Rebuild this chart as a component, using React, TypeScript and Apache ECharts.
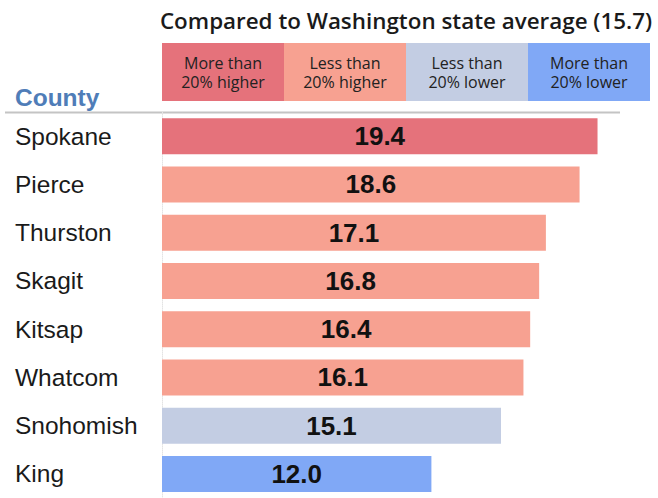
import React, { useEffect, useRef } from "react";
import * as echarts from "echarts";

const counties = ["Spokane", "Pierce", "Thurston", "Skagit", "Kitsap", "Whatcom", "Snohomish", "King"];
const rates = [19.4, 18.6, 17.1, 16.8, 16.4, 16.1, 15.1, 12.0];
const stateAverage = 15.7;
const legendLines = [
  ["More than", "20% higher"],
  ["Less than", "20% higher"],
  ["Less than", "20% lower"],
  ["More than", "20% lower"],
];
const legendColors = ["#e5727b", "#f7a191", "#c3cde3", "#80a8f6"];
const titleText = "Compared to Washington state average (15.7)";
const axisTitle = "County";

function classOf(v: number): number {
  const r = v / stateAverage;
  if (r > 1.2) return 0;
  if (r >= 1) return 1;
  if (r >= 0.8) return 2;
  return 3;
}

export default function App() {
  const ref = useRef<HTMLDivElement>(null);
  useEffect(() => {
    if (!ref.current) return;
    const chart = echarts.init(ref.current, undefined, { renderer: "svg" });
    const boxLeft = 162;
    const boxW = 122;
    const graphic: any[] = [];
    graphic.push({
      type: "text",
      x: 406,
      y: 20,
      style: {
        text: titleText,
        font: "600 22.4px 'Open Sans'",
        fill: "#1a1a1a",
        textAlign: "center",
        textVerticalAlign: "middle",
      },
    });
    legendLines.forEach((lines, i) => {
      graphic.push({
        type: "rect",
        shape: { x: boxLeft + i * boxW, y: 43, width: boxW, height: 58 },
        style: { fill: legendColors[i] },
      });
      lines.forEach((line, j) => {
        graphic.push({
          type: "text",
          x: boxLeft + i * boxW + boxW / 2,
          y: 62.5 + j * 19,
          style: {
            text: line,
            font: "16px 'Open Sans'",
            fill: "#222222",
            textAlign: "center",
            textVerticalAlign: "middle",
          },
        });
      });
    });
    graphic.push({
      type: "text",
      x: 15,
      y: 97,
      style: {
        text: axisTitle,
        font: "bold 24.5px 'Liberation Sans'",
        fill: "#4f7db8",
        textAlign: "left",
        textVerticalAlign: "middle",
      },
    });
    graphic.push({
      type: "line",
      shape: { x1: 5, y1: 112.5, x2: 620, y2: 112.5 },
      style: { stroke: "#c4c4c4", lineWidth: 2 },
    });

    chart.setOption({
      animation: false,
      grid: { left: 162, top: 112, width: 449, height: 388.6 },
      xAxis: {
        type: "value",
        min: 0,
        max: 20,
        show: false,
      },
      yAxis: {
        type: "category",
        inverse: true,
        data: counties,
        axisLine: { show: true, lineStyle: { color: "#e4e4e4", type: "dotted" } },
        axisTick: { show: false },
        axisLabel: {
          align: "left",
          margin: 147,
          fontSize: 24.5,
          fontFamily: "'Liberation Sans', Arial",
          color: "#1a1a1a",
        },
      },
      series: [
        {
          type: "bar",
          barWidth: 36,
          data: rates.map((v) => ({ value: v, itemStyle: { color: legendColors[classOf(v)] } })),
          label: {
            show: true,
            position: "inside",
            formatter: (p: any) => p.value.toFixed(1),
            fontSize: 26,
            fontWeight: "bold",
            fontFamily: "'Liberation Sans', Arial",
            color: "#111111",
          },
        },
      ],
      graphic,
    });
    return () => chart.dispose();
  }, []);
  return <div ref={ref} style={{ position: "absolute", left: 0, top: 0, width: 658, height: 498 }} />;
}
